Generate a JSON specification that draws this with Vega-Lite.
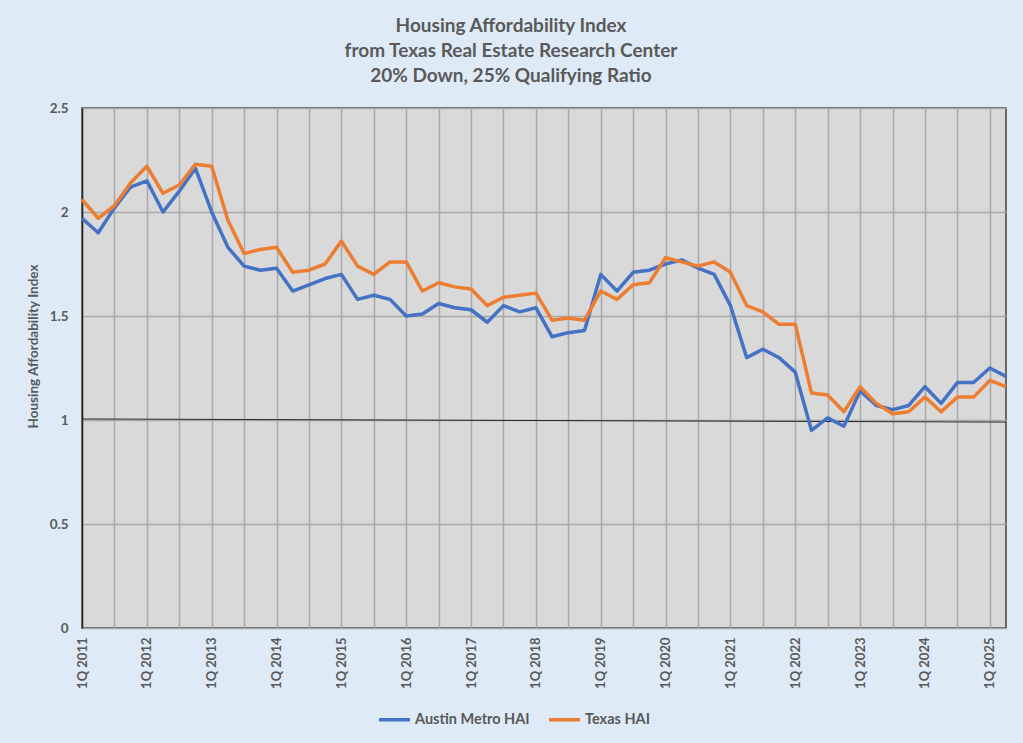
{
  "$schema": "https://vega.github.io/schema/vega-lite/v6.json",
  "width": 924,
  "height": 520,
  "autosize": {"type": "none"},
  "padding": {"left": 82, "top": 108, "right": 17, "bottom": 115},
  "background": "#DEEBF7",
  "title": {
    "text": ["Housing Affordability Index", "from Texas Real Estate Research Center", "20% Down, 25% Qualifying Ratio"],
    "font": "Lato",
    "fontSize": 19,
    "fontWeight": "bold",
    "color": "#595959",
    "lineHeight": 25,
    "offset": 15,
    "dx": -33,
    "anchor": "middle",
    "frame": "group"
  },
  "datasets": {
    "hai": [
      {"q": "1Q 2011", "Austin Metro HAI": 1.97, "Texas HAI": 2.06},
      {"q": "2Q 2011", "Austin Metro HAI": 1.90, "Texas HAI": 1.97},
      {"q": "3Q 2011", "Austin Metro HAI": 2.02, "Texas HAI": 2.03},
      {"q": "4Q 2011", "Austin Metro HAI": 2.12, "Texas HAI": 2.14},
      {"q": "1Q 2012", "Austin Metro HAI": 2.15, "Texas HAI": 2.22},
      {"q": "2Q 2012", "Austin Metro HAI": 2.00, "Texas HAI": 2.09},
      {"q": "3Q 2012", "Austin Metro HAI": 2.10, "Texas HAI": 2.13},
      {"q": "4Q 2012", "Austin Metro HAI": 2.21, "Texas HAI": 2.23},
      {"q": "1Q 2013", "Austin Metro HAI": 2.00, "Texas HAI": 2.22},
      {"q": "2Q 2013", "Austin Metro HAI": 1.83, "Texas HAI": 1.96},
      {"q": "3Q 2013", "Austin Metro HAI": 1.74, "Texas HAI": 1.80},
      {"q": "4Q 2013", "Austin Metro HAI": 1.72, "Texas HAI": 1.82},
      {"q": "1Q 2014", "Austin Metro HAI": 1.73, "Texas HAI": 1.83},
      {"q": "2Q 2014", "Austin Metro HAI": 1.62, "Texas HAI": 1.71},
      {"q": "3Q 2014", "Austin Metro HAI": 1.65, "Texas HAI": 1.72},
      {"q": "4Q 2014", "Austin Metro HAI": 1.68, "Texas HAI": 1.75},
      {"q": "1Q 2015", "Austin Metro HAI": 1.70, "Texas HAI": 1.86},
      {"q": "2Q 2015", "Austin Metro HAI": 1.58, "Texas HAI": 1.74},
      {"q": "3Q 2015", "Austin Metro HAI": 1.60, "Texas HAI": 1.70},
      {"q": "4Q 2015", "Austin Metro HAI": 1.58, "Texas HAI": 1.76},
      {"q": "1Q 2016", "Austin Metro HAI": 1.50, "Texas HAI": 1.76},
      {"q": "2Q 2016", "Austin Metro HAI": 1.51, "Texas HAI": 1.62},
      {"q": "3Q 2016", "Austin Metro HAI": 1.56, "Texas HAI": 1.66},
      {"q": "4Q 2016", "Austin Metro HAI": 1.54, "Texas HAI": 1.64},
      {"q": "1Q 2017", "Austin Metro HAI": 1.53, "Texas HAI": 1.63},
      {"q": "2Q 2017", "Austin Metro HAI": 1.47, "Texas HAI": 1.55},
      {"q": "3Q 2017", "Austin Metro HAI": 1.55, "Texas HAI": 1.59},
      {"q": "4Q 2017", "Austin Metro HAI": 1.52, "Texas HAI": 1.60},
      {"q": "1Q 2018", "Austin Metro HAI": 1.54, "Texas HAI": 1.61},
      {"q": "2Q 2018", "Austin Metro HAI": 1.40, "Texas HAI": 1.48},
      {"q": "3Q 2018", "Austin Metro HAI": 1.42, "Texas HAI": 1.49},
      {"q": "4Q 2018", "Austin Metro HAI": 1.43, "Texas HAI": 1.48},
      {"q": "1Q 2019", "Austin Metro HAI": 1.70, "Texas HAI": 1.62},
      {"q": "2Q 2019", "Austin Metro HAI": 1.62, "Texas HAI": 1.58},
      {"q": "3Q 2019", "Austin Metro HAI": 1.71, "Texas HAI": 1.65},
      {"q": "4Q 2019", "Austin Metro HAI": 1.72, "Texas HAI": 1.66},
      {"q": "1Q 2020", "Austin Metro HAI": 1.75, "Texas HAI": 1.78},
      {"q": "2Q 2020", "Austin Metro HAI": 1.77, "Texas HAI": 1.76},
      {"q": "3Q 2020", "Austin Metro HAI": 1.73, "Texas HAI": 1.74},
      {"q": "4Q 2020", "Austin Metro HAI": 1.70, "Texas HAI": 1.76},
      {"q": "1Q 2021", "Austin Metro HAI": 1.55, "Texas HAI": 1.71},
      {"q": "2Q 2021", "Austin Metro HAI": 1.30, "Texas HAI": 1.55},
      {"q": "3Q 2021", "Austin Metro HAI": 1.34, "Texas HAI": 1.52},
      {"q": "4Q 2021", "Austin Metro HAI": 1.30, "Texas HAI": 1.46},
      {"q": "1Q 2022", "Austin Metro HAI": 1.23, "Texas HAI": 1.46},
      {"q": "2Q 2022", "Austin Metro HAI": 0.95, "Texas HAI": 1.13},
      {"q": "3Q 2022", "Austin Metro HAI": 1.01, "Texas HAI": 1.12},
      {"q": "4Q 2022", "Austin Metro HAI": 0.97, "Texas HAI": 1.04},
      {"q": "1Q 2023", "Austin Metro HAI": 1.14, "Texas HAI": 1.16},
      {"q": "2Q 2023", "Austin Metro HAI": 1.07, "Texas HAI": 1.08},
      {"q": "3Q 2023", "Austin Metro HAI": 1.05, "Texas HAI": 1.03},
      {"q": "4Q 2023", "Austin Metro HAI": 1.07, "Texas HAI": 1.04},
      {"q": "1Q 2024", "Austin Metro HAI": 1.16, "Texas HAI": 1.11},
      {"q": "2Q 2024", "Austin Metro HAI": 1.08, "Texas HAI": 1.04},
      {"q": "3Q 2024", "Austin Metro HAI": 1.18, "Texas HAI": 1.11},
      {"q": "4Q 2024", "Austin Metro HAI": 1.18, "Texas HAI": 1.11},
      {"q": "1Q 2025", "Austin Metro HAI": 1.25, "Texas HAI": 1.19},
      {"q": "2Q 2025", "Austin Metro HAI": 1.21, "Texas HAI": 1.16}
    ],
    "ref": [
      {"q": "1Q 2011", "value": 1.005},
      {"q": "2Q 2025", "value": 0.99}
    ]
  },
  "encoding": {
    "x": {
      "field": "q",
      "type": "ordinal",
      "scale": {
        "type": "point",
        "padding": 0,
        "domain": ["1Q 2011","2Q 2011","3Q 2011","4Q 2011","1Q 2012","2Q 2012","3Q 2012","4Q 2012","1Q 2013","2Q 2013","3Q 2013","4Q 2013","1Q 2014","2Q 2014","3Q 2014","4Q 2014","1Q 2015","2Q 2015","3Q 2015","4Q 2015","1Q 2016","2Q 2016","3Q 2016","4Q 2016","1Q 2017","2Q 2017","3Q 2017","4Q 2017","1Q 2018","2Q 2018","3Q 2018","4Q 2018","1Q 2019","2Q 2019","3Q 2019","4Q 2019","1Q 2020","2Q 2020","3Q 2020","4Q 2020","1Q 2021","2Q 2021","3Q 2021","4Q 2021","1Q 2022","2Q 2022","3Q 2022","4Q 2022","1Q 2023","2Q 2023","3Q 2023","4Q 2023","1Q 2024","2Q 2024","3Q 2024","4Q 2024","1Q 2025","2Q 2025"]
      },
      "axis": {
        "title": null,
        "values": ["1Q 2011","3Q 2011","1Q 2012","3Q 2012","1Q 2013","3Q 2013","1Q 2014","3Q 2014","1Q 2015","3Q 2015","1Q 2016","3Q 2016","1Q 2017","3Q 2017","1Q 2018","3Q 2018","1Q 2019","3Q 2019","1Q 2020","3Q 2020","1Q 2021","3Q 2021","1Q 2022","3Q 2022","1Q 2023","3Q 2023","1Q 2024","3Q 2024","1Q 2025"],
        "labelExpr": "indexof(datum.label, '1Q') == 0 ? datum.label : ''",
        "labelAngle": 270,
        "labelPadding": 9,
        "labelFont": "Lato",
        "labelFontSize": 13,
        "labelFontWeight": "bold",
        "labelColor": "#595959",
        "ticks": false,
        "domain": false,
        "grid": true,
        "gridColor": "#A8A8A8",
        "gridWidth": 1.5
      }
    },
    "y": {
      "field": "value",
      "type": "quantitative",
      "scale": {"domain": [0, 2.5], "nice": false},
      "axis": {
        "title": "Housing Affordability Index",
        "values": [0, 0.5, 1, 1.5, 2, 2.5],
        "format": "~g",
        "labelPadding": 14,
        "labelFont": "Lato",
        "labelFontSize": 13.5,
        "labelFontWeight": "bold",
        "labelColor": "#595959",
        "ticks": false,
        "domainColor": "#262626",
        "domainWidth": 1.5,
        "grid": true,
        "gridColor": "#A8A8A8",
        "gridWidth": 1.5,
        "titleFont": "Lato",
        "titleFontSize": 13.5,
        "titleFontWeight": "bold",
        "titleColor": "#595959",
        "titleX": -49,
        "titleY": 238,
        "titleAngle": 270,
        "titleAlign": "center",
        "titleBaseline": "middle"
      }
    }
  },
  "layer": [
    {
      "data": {"name": "ref"},
      "mark": {"type": "line", "color": "#262626", "strokeWidth": 1}
    },
    {
      "data": {"name": "hai"},
      "transform": [
        {"fold": ["Austin Metro HAI", "Texas HAI"], "as": ["series", "value"]}
      ],
      "mark": {"type": "line", "strokeWidth": 3.5, "strokeJoin": "round"},
      "encoding": {
        "color": {
          "field": "series",
          "type": "nominal",
          "scale": {"domain": ["Austin Metro HAI", "Texas HAI"], "range": ["#4472C4", "#ED7D31"]},
          "legend": {
            "title": null,
            "orient": "none",
            "legendX": 295,
            "legendY": 594,
            "direction": "horizontal",
            "symbolType": "stroke",
            "symbolSize": 961,
            "symbolStrokeWidth": 3.5,
            "labelFont": "Lato",
            "labelFontSize": 14.5,
            "labelFontWeight": "bold",
            "labelColor": "#595959",
            "labelOffset": 3,
            "columnPadding": 12
          }
        }
      }
    }
  ],
  "config": {
    "font": "Lato",
    "view": {"fill": "#D9D9D9", "stroke": "#404040", "strokeWidth": 1.5}
  }
}
